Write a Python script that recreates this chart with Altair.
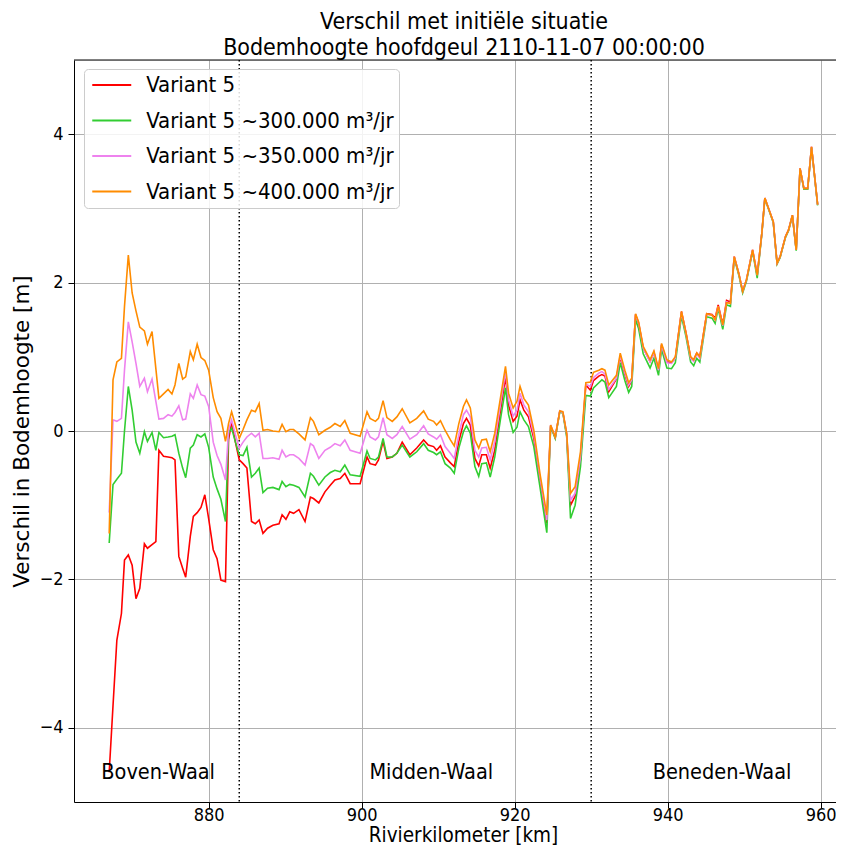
import altair as alt
import pandas as pd

km = [867.0, 867.5, 868.0, 868.6, 869.0, 869.5, 870.0, 870.5, 871.0, 871.6,
      872.0, 872.6, 873.1, 873.5, 874.1, 874.7, 875.2, 875.6, 876.1, 876.6,
      877.0, 877.6, 878.0, 878.5, 879.0, 879.5, 880.0, 880.6, 881.1, 881.6,
      882.2, 882.6, 883.0, 883.5, 884.0, 884.5, 885.0, 885.6, 886.1, 886.6,
      887.1, 887.7, 888.4, 889.2, 889.6, 890.1, 890.6, 891.1, 891.8, 892.6,
      893.3, 893.7, 894.4, 895.2, 895.9, 896.5, 897.2, 897.8, 898.5, 899.8,
      900.7, 901.1, 901.8, 902.2, 902.8, 903.3, 904.0, 904.6, 905.3, 906.3,
      907.2, 908.1, 908.7, 909.4, 909.8, 910.3, 910.9, 911.6, 912.1, 912.7,
      913.3, 913.7, 914.2, 914.8, 915.3, 915.7, 916.3, 916.8, 917.4, 918.1,
      918.8, 919.2, 919.8, 920.3, 920.7, 921.2, 921.8, 922.5, 923.3, 924.2,
      924.7, 925.3, 925.9, 926.3, 926.8, 927.3, 927.9, 928.6, 929.3, 929.9,
      930.3, 931.0, 931.4, 931.8, 932.3, 933.3, 933.8, 934.4, 934.9, 935.3,
      935.8, 936.2, 936.8, 937.7, 938.2, 938.8, 939.2, 939.9, 940.5, 941.0,
      941.8, 942.4, 943.0, 943.4, 943.8, 944.2, 945.1, 945.8, 946.2, 946.6,
      947.2, 947.7, 948.2, 948.7, 949.3, 949.8, 950.3, 951.1, 951.7, 952.3,
      952.7, 953.8, 954.3, 954.7, 955.4, 955.8, 956.3, 956.8, 957.3, 957.8,
      958.3, 958.8, 959.6]

variant5 = [-4.60, -3.70, -2.82, -2.46, -1.74, -1.67, -1.81, -2.26, -2.12, -1.52,
            -1.58, -1.53, -1.49, -0.26, -0.34, -0.35, -0.36, -0.39, -1.69, -1.85,
            -1.97, -1.42, -1.15, -1.10, -1.03, -0.86, -1.18, -1.60, -1.72, -2.01,
            -2.03, -0.12, 0.12, -0.15, -0.39, -0.44, -0.50, -1.22, -1.25, -1.20,
            -1.38, -1.31, -1.27, -1.25, -1.13, -1.19, -1.09, -1.11, -1.06, -1.22,
            -0.89, -0.91, -0.97, -0.82, -0.73, -0.66, -0.64, -0.57, -0.71, -0.71,
            -0.35, -0.44, -0.46, -0.39, -0.14, -0.37, -0.35, -0.30, -0.15, -0.32,
            -0.23, -0.12, -0.19, -0.21, -0.26, -0.20, -0.35, -0.43, -0.48, -0.14,
            0.10, 0.17, 0.08, -0.37, -0.47, -0.32, -0.32, -0.50, -0.26, 0.24,
            0.73, 0.35, 0.13, 0.20, 0.42, 0.28, 0.19, -0.10, -0.66, -1.24,
            0.07, -0.09, 0.27, 0.25, -0.05, -1.00, -0.88, -0.39, 0.62, 0.55,
            0.68, 0.74, 0.76, 0.74, 0.53, 0.70, 1.00, 0.76, 0.60, 0.68,
            1.57, 1.45, 1.12, 0.94, 1.06, 0.82, 1.16, 0.93, 0.92, 0.98,
            1.61, 1.32, 0.99, 0.96, 1.05, 1.00, 1.58, 1.57, 1.52, 1.70,
            1.44, 1.76, 1.74, 2.35, 2.12, 1.88, 2.04, 2.44, 2.10, 2.66,
            3.14, 2.82, 2.26, 2.35, 2.62, 2.71, 2.91, 2.44, 3.54, 3.27,
            3.27, 3.83, 3.05]

variant5_300 = [-1.51, -0.72, -0.65, -0.57, 0.00, 0.60, 0.28, -0.15, -0.30, -0.01,
                -0.14, -0.02, -0.26, -0.02, -0.09, -0.08, -0.07, -0.05, -0.30, -0.50,
                -0.63, -0.23, -0.19, -0.05, -0.08, -0.04, -0.22, -0.62, -0.78, -0.92,
                -1.22, -0.03, 0.04, -0.15, -0.32, -0.33, -0.22, -0.62, -0.57, -0.50,
                -0.83, -0.77, -0.76, -0.79, -0.68, -0.75, -0.72, -0.73, -0.76, -0.89,
                -0.57, -0.61, -0.73, -0.62, -0.56, -0.53, -0.55, -0.46, -0.59, -0.61,
                -0.27, -0.37, -0.39, -0.35, -0.10, -0.35, -0.35, -0.30, -0.19, -0.35,
                -0.28, -0.17, -0.26, -0.29, -0.32, -0.28, -0.44, -0.50, -0.57, -0.23,
                -0.01, 0.07, -0.03, -0.48, -0.61, -0.44, -0.43, -0.62, -0.35, 0.13,
                0.58, 0.22, -0.02, 0.05, 0.26, 0.15, 0.06, -0.21, -0.75, -1.37,
                0.06, -0.10, 0.26, 0.24, -0.08, -1.18, -1.00, -0.48, 0.48, 0.47,
                0.58, 0.65, 0.69, 0.66, 0.45, 0.60, 0.92, 0.68, 0.52, 0.60,
                1.50, 1.38, 1.04, 0.85, 0.98, 0.75, 1.10, 0.85, 0.84, 0.92,
                1.55, 1.27, 0.93, 0.88, 0.98, 0.93, 1.54, 1.52, 1.45, 1.65,
                1.37, 1.70, 1.68, 2.33, 2.10, 1.86, 2.02, 2.42, 2.06, 2.65,
                3.13, 2.81, 2.25, 2.34, 2.61, 2.70, 2.90, 2.43, 3.53, 3.26,
                3.26, 3.82, 3.04]

variant5_350 = [-1.10, 0.15, 0.13, 0.17, 0.82, 1.47, 1.20, 0.91, 0.60, 0.71,
                0.53, 0.70, 0.40, 0.16, 0.17, 0.22, 0.20, 0.25, 0.34, 0.15,
                0.16, 0.50, 0.44, 0.62, 0.49, 0.47, 0.33, -0.15, -0.33, -0.45,
                -0.66, 0.01, 0.15, -0.05, -0.23, -0.15, -0.08, -0.03, -0.08, -0.03,
                -0.37, -0.37, -0.36, -0.38, -0.26, -0.35, -0.32, -0.32, -0.37, -0.46,
                -0.17, -0.20, -0.37, -0.26, -0.22, -0.17, -0.20, -0.12, -0.26, -0.30,
                0.01, -0.08, -0.12, -0.08, 0.18, -0.05, -0.10, -0.05, 0.06, -0.11,
                -0.05, 0.07, -0.04, -0.08, -0.11, -0.05, -0.21, -0.30, -0.37, -0.05,
                0.22, 0.28, 0.19, -0.26, -0.35, -0.23, -0.22, -0.39, -0.14, 0.33,
                0.80, 0.42, 0.20, 0.28, 0.51, 0.35, 0.26, -0.05, -0.62, -1.20,
                0.08, -0.08, 0.27, 0.25, -0.04, -0.93, -0.84, -0.35, 0.63, 0.60,
                0.72, 0.78, 0.80, 0.77, 0.56, 0.71, 1.02, 0.78, 0.62, 0.69,
                1.57, 1.46, 1.12, 0.93, 1.06, 0.82, 1.16, 0.92, 0.91, 0.98,
                1.60, 1.31, 0.98, 0.94, 1.04, 0.98, 1.57, 1.56, 1.50, 1.68,
                1.42, 1.74, 1.72, 2.35, 2.12, 1.88, 2.04, 2.44, 2.10, 2.66,
                3.14, 2.82, 2.26, 2.35, 2.62, 2.71, 2.91, 2.44, 3.54, 3.27,
                3.27, 3.83, 3.05]

variant5_400 = [-1.38, 0.69, 0.93, 0.98, 1.68, 2.37, 1.86, 1.62, 1.40, 1.35,
                1.17, 1.34, 0.84, 0.44, 0.50, 0.56, 0.50, 0.62, 0.91, 0.70,
                0.73, 1.07, 0.96, 1.17, 0.99, 0.95, 0.82, 0.45, 0.26, 0.17,
                -0.14, 0.10, 0.26, 0.08, -0.10, 0.02, 0.15, 0.28, 0.26, 0.37,
                0.01, 0.02, 0.00, -0.01, 0.09, -0.01, 0.02, 0.02, -0.04, -0.12,
                0.18, 0.13, -0.05, 0.01, 0.05, 0.10, 0.06, 0.14, -0.03, -0.07,
                0.26, 0.17, 0.13, 0.17, 0.41, 0.18, 0.13, 0.19, 0.30, 0.11,
                0.17, 0.27, 0.16, 0.13, 0.08, 0.14, 0.01, -0.12, -0.20, 0.10,
                0.33, 0.42, 0.31, -0.12, -0.23, -0.12, -0.11, -0.28, -0.03, 0.42,
                0.87, 0.51, 0.31, 0.40, 0.60, 0.44, 0.35, 0.01, -0.57, -1.13,
                0.08, -0.08, 0.27, 0.26, -0.03, -0.84, -0.75, -0.28, 0.65, 0.66,
                0.79, 0.82, 0.84, 0.82, 0.62, 0.75, 1.05, 0.82, 0.65, 0.71,
                1.58, 1.47, 1.14, 0.96, 1.08, 0.84, 1.18, 0.96, 0.93, 1.00,
                1.61, 1.32, 1.00, 0.96, 1.05, 1.00, 1.58, 1.56, 1.50, 1.68,
                1.43, 1.73, 1.72, 2.35, 2.12, 1.88, 2.04, 2.44, 2.10, 2.66,
                3.14, 2.82, 2.26, 2.35, 2.62, 2.71, 2.91, 2.44, 3.54, 3.27,
                3.27, 3.83, 3.05]

series_names = ["Variant 5",
                "Variant 5 ~300.000 m³/jr",
                "Variant 5 ~350.000 m³/jr",
                "Variant 5 ~400.000 m³/jr"]
series_colors = ["#ff0000", "#32cd32", "#ee82ee", "#ff8c00"]

section_bounds_km = [884, 930]
section_names = ["Boven-Waal", "Midden-Waal", "Beneden-Waal"]
section_label_km = [873.4, 909.1, 947.1]
section_label_y = [-4.61, -4.61, -4.61]

x_ticks = [880, 900, 920, 940, 960]
y_ticks = [-4, -2, 0, 2, 4]
y_top = 5

FONT = "DejaVu Sans Condensed, DejaVu Sans"

x_scale = alt.Scale(domain=[862.4, 962.0], nice=False, zero=False)
y_scale = alt.Scale(domain=[-5, 5], nice=False, zero=False)
color_scale = alt.Scale(domain=series_names, range=series_colors)

x_axis = alt.Axis(values=x_ticks, format="d", title="Rivierkilometer [km]",
                  grid=True, gridColor="#b0b0b0", gridWidth=1,
                  domain=True, domainColor="#000", domainWidth=1,
                  tickColor="#000", tickSize=6, tickWidth=1,
                  labelFont=FONT, labelFontSize=18, labelColor="#000", labelPadding=-2,
                  titleFont=FONT, titleFontSize=20.5, titleFontWeight="normal",
                  titleColor="#000", titleBaseline="alphabetic", titleY=39, titleX=389)
y_axis = alt.Axis(values=y_ticks, format="d", title="Verschil in Bodemhoogte [m]",
                  grid=True, gridColor="#b0b0b0", gridWidth=1,
                  domain=True, domainColor="#000", domainWidth=1,
                  tickColor="#000", tickSize=6, tickWidth=1,
                  labelFont=FONT, labelFontSize=18, labelColor="#000", labelPadding=5,
                  titleFont="DejaVu Sans", titleFontSize=21.5, titleFontWeight="normal",
                  titleColor="#000", titlePadding=6)

legend = alt.Legend(title=None, orient="none", legendX=10, legendY=9,
                    symbolType="M-2,0H2", symbolSize=380, symbolStrokeWidth=2,
                    symbolOffset=11.75,
                    labelFont=FONT, labelFontSize=22, labelColor="#000",
                    labelOffset=23.5, labelLimit=0, rowPadding=13.5,
                    fillColor="rgba(255,255,255,0.85)", strokeColor="#cccccc",
                    cornerRadius=4, padding=5)

values_by_series = [variant5, variant5_300, variant5_350, variant5_400]
layers = []
for name, vals in zip(series_names, values_by_series):
    df = pd.DataFrame({"km": km, "waarde": vals, "serie": name})
    layers.append(
        alt.Chart(df).mark_line(strokeWidth=1.6, clip=True).encode(
            x=alt.X("km:Q", scale=x_scale, axis=x_axis),
            y=alt.Y("waarde:Q", scale=y_scale, axis=y_axis),
            color=alt.Color("serie:N", scale=color_scale, legend=legend),
        )
    )

bounds_df = pd.DataFrame({"km": section_bounds_km})
rules = alt.Chart(bounds_df).mark_rule(color="#000", strokeWidth=1.5,
                                       strokeDash=[1.5, 2.5]).encode(
    x=alt.X("km:Q", scale=x_scale)
)

# top edge of the axes frame, at the top of the y domain
top_frame = alt.Chart(pd.DataFrame({"y": [y_top]})).mark_rule(
    color="#000", strokeWidth=1).encode(y=alt.Y("y:Q", scale=y_scale))

labels_df = pd.DataFrame({"naam": section_names, "km": section_label_km,
                          "y": section_label_y})
labels = alt.Chart(labels_df).mark_text(font=FONT, fontSize=21.5, color="#000",
                                        align="center", baseline="middle").encode(
    x=alt.X("km:Q", scale=x_scale),
    y=alt.Y("y:Q", scale=y_scale),
    text="naam:N",
)

chart = alt.layer(rules, top_frame, *layers, labels).properties(
    width=762,
    height=742,
    autosize=alt.AutoSizeParams(type="none"),
    padding={"left": 66, "top": 52, "right": 0, "bottom": 43},
    title=alt.TitleParams(
        text=["Verschil met initiële situatie",
              "Bodemhoogte hoofdgeul 2110-11-07 00:00:00"],
        font=FONT, fontSize=23, fontWeight="normal", color="#000",
        anchor="middle", offset=-1, lineHeight=26, dx=9,
    ),
).configure_view(stroke=None).configure(background="white")

chart.save("out.html", embed_options={"renderer": "svg", "actions": False})
